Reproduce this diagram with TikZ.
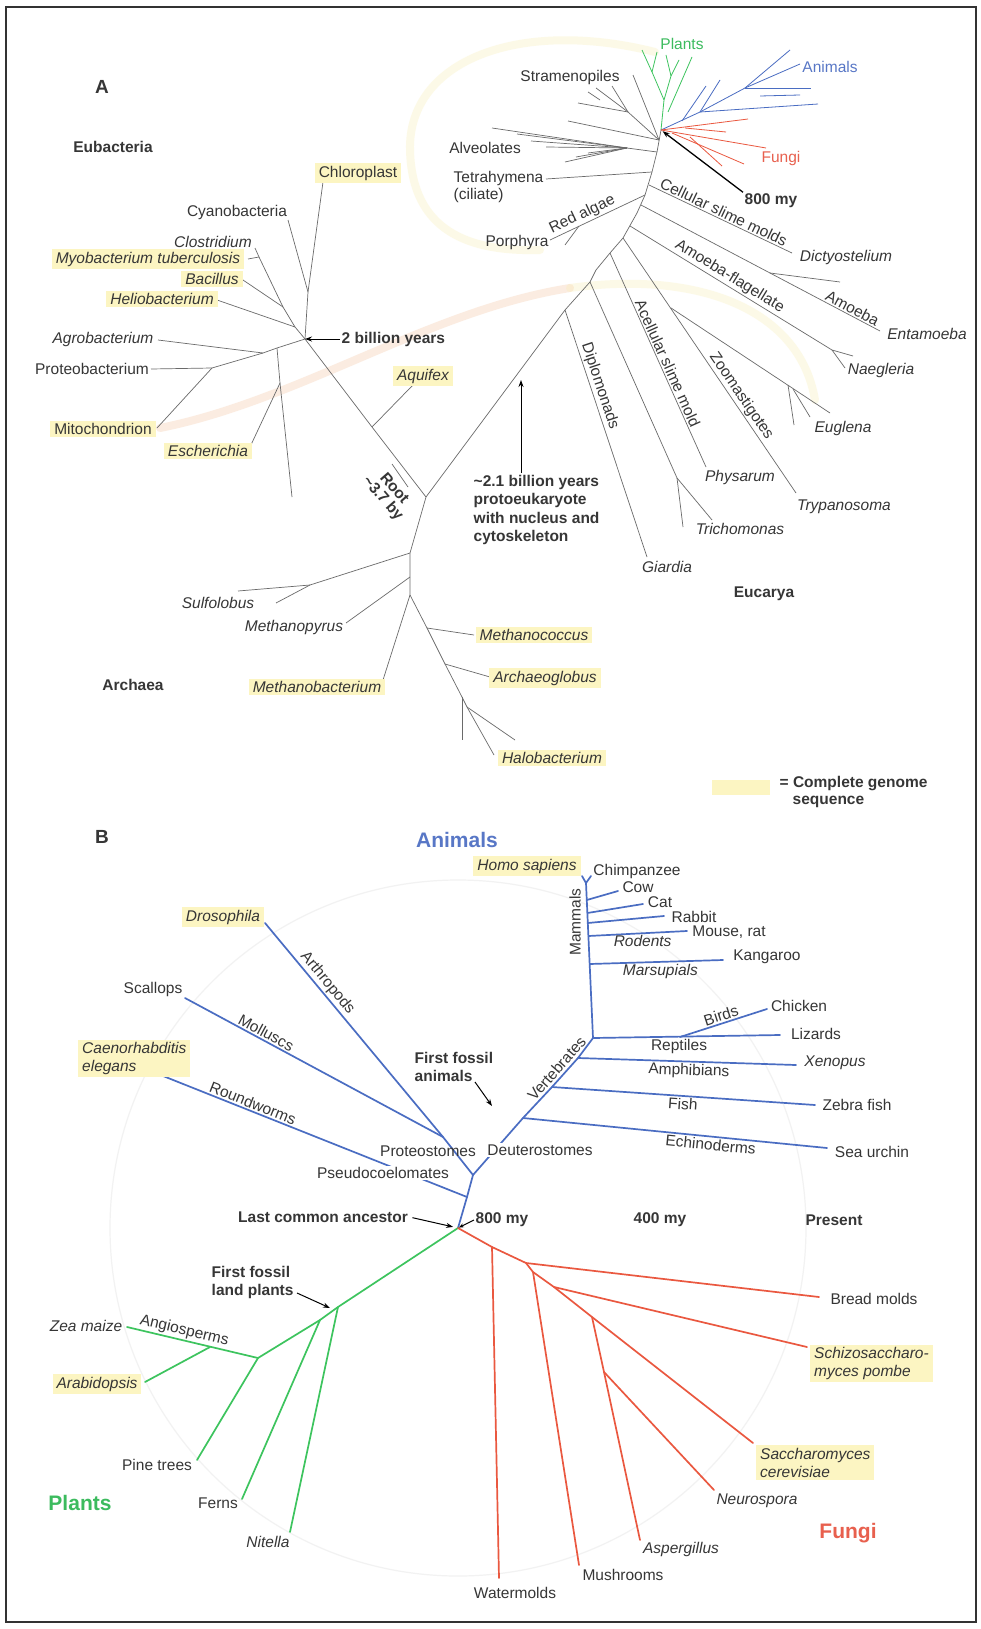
\documentclass[tikz,border=0pt]{standalone}
\usepackage{fontspec}
\setmainfont{Liberation Sans}
\usetikzlibrary{arrows.meta}
\definecolor{txt}{HTML}{363636}
\definecolor{lng}{HTML}{6A6A6A}
\definecolor{hly}{HTML}{FCF5C2}
\definecolor{blu}{HTML}{4A6DC2}
\definecolor{grn}{HTML}{3DC45E}
\definecolor{frd}{HTML}{EA5840}
\definecolor{anim}{HTML}{5877C6}
\definecolor{plnt}{HTML}{3CBB5E}
\definecolor{fng}{HTML}{E8604E}
\definecolor{bandY}{HTML}{F8EDB0}
\definecolor{bandO}{HTML}{F4C29C}
\begin{document}
\begin{tikzpicture}[x=1pt,y=-1pt,
  lab/.style={font=\fontsize{15.5}{17}\selectfont, text=txt, inner sep=1.5pt},
  itl/.style={font=\fontsize{15.5}{18}\selectfont\itshape, text=txt, inner sep=1.5pt},
  bld/.style={font=\fontsize{15.5}{18}\selectfont\bfseries, text=txt, inner sep=1.5pt},
  bigl/.style={font=\fontsize{21}{24}\selectfont\bfseries, inner sep=1pt},
  hlb/.style={fill=hly, inner xsep=4pt, inner ysep=2.5pt},
  tA/.style={draw=lng, line width=0.7pt, line join=round},
  tAb/.style={draw=blu, line width=0.8pt},
  tAg/.style={draw=grn, line width=0.8pt},
  tAr/.style={draw=frd, line width=0.8pt},
  tB/.style={draw=blu, line width=1.7pt, line join=round, line cap=round},
  tG/.style={draw=grn, line width=1.7pt, line join=round, line cap=round},
  tR/.style={draw=frd, line width=1.7pt, line join=round, line cap=round},
  arr/.style={-{Stealth[length=7pt,width=5pt]}, line width=1pt, draw=black},
]
\useasboundingbox (0,0) rectangle (980,1629);
\fill[white] (0,0) rectangle (980,1629);

% ---------- faint bands (part A) ----------
\draw[bandY, line width=8pt, opacity=0.3, line cap=round]
  (655,52) .. controls (520,18) and (408,60) .. (410,150)
  .. controls (412,232) and (470,252) .. (540,250);
\draw[bandO, line width=8pt, opacity=0.3, line cap=round]
  (160,428) .. controls (300,400) and (430,310) .. (570,288);
\draw[bandY, line width=8pt, opacity=0.3, line cap=round]
  (570,288) .. controls (700,270) and (800,310) .. (815,400);

% faint circle (part B)
\coordinate (LCA) at (458,1228);
\draw[black!5, line width=1.2pt] (LCA) circle [radius=348pt];

% frame
\draw[line width=1.6pt, black!80] (6,7) rectangle (976,1622);

% ================= PART A =================
\node[bld, font=\fontsize{19}{22}\selectfont\bfseries] (lA) at (102,87) {A};
\node[bld] (eub) at (113,147) {Eubacteria};
\node[bld] (arc) at (133,685) {Archaea};
\node[bld] (euc) at (764,594) {Eucarya};

% Eubacteria coordinates
\coordinate (R) at (305,339);
\coordinate (chlT) at (323,182);
\coordinate (chlJ) at (308,292);
\coordinate (cyaT) at (288,220);
\coordinate (cloT) at (255,248);
\coordinate (myoJ) at (259,257);
\coordinate (myoT) at (248,259);
\coordinate (bacJ) at (283,307);
\coordinate (bacT) at (243,280);
\coordinate (helJ) at (295,327);
\coordinate (helT) at (217,300);
\coordinate (p1) at (277,348);
\coordinate (agrJ) at (263,353);
\coordinate (agrT) at (158,340);
\coordinate (proJ) at (212,368);
\coordinate (proT) at (151,369);
\coordinate (mitT) at (157,428);
\coordinate (vT) at (292,497);
\coordinate (escJ) at (280,383);
\coordinate (escT) at (250,447);
\coordinate (J) at (426,497);
\coordinate (aqJ) at (372,427);
\coordinate (aqT) at (413,385);
\coordinate (rb1) at (392,464);
\coordinate (rb2) at (408,487);

\draw[tA] (chlT) -- (chlJ) -- (R);
\draw[tA] (cyaT) -- (chlJ);
\draw[tA] (cloT) -- (myoJ) -- (bacJ) -- (helJ) -- (R);
\draw[tA] (myoT) -- (myoJ);
\draw[tA] (bacT) -- (bacJ);
\draw[tA] (helT) -- (helJ);
\draw[tA] (R) -- (p1) -- (agrJ) -- (proJ) -- (mitT);
\draw[tA] (agrT) -- (agrJ);
\draw[tA] (proT) -- (proJ);
\draw[tA] (p1) -- (escJ) -- (vT);
\draw[tA] (escT) -- (escJ);
\draw[tA] (R) -- (aqJ) -- (J);
\draw[tA] (aqJ) -- (aqT);
\draw[tA] (rb1) -- (rb2);

\node[lab,hlb] (chl) at (358,173) {Chloroplast};
\node[lab] (cya) at (237,212) {Cyanobacteria};
\node[itl] (clo) at (213,242) {Clostridium};
\node[itl,hlb] (myo) at (148,259) {Myobacterium tuberculosis};
\node[itl,hlb] (bac) at (212,279) {Bacillus};
\node[itl,hlb] (hel) at (162,299) {Heliobacterium};
\node[itl] (agr) at (103,339) {Agrobacterium};
\node[lab] (prb) at (92,369) {Proteobacterium};
\node[lab,hlb] (mit) at (103,429) {Mitochondrion};
\node[itl,hlb] (esc) at (208,451) {Escherichia};
\node[itl,hlb] (aqu) at (423,376) {Aquifex};
\node[bld, anchor=west] (twob) at (340,339) {2 billion years};
\draw[arr] (twob.west) -- (R);
\node[bld, font=\fontsize{15.5}{15}\selectfont\bfseries, rotate=-49, align=center] (root) at (388,494) {Root\\\textasciitilde3.7 by};

% Archaea
\coordinate (a1) at (410,553);
\coordinate (a2) at (410,577);
\coordinate (a3) at (410,595);
\coordinate (mc) at (427,628);
\coordinate (ag) at (445,664);
\coordinate (a5) at (462,697);
\coordinate (a6) at (467,707);
\coordinate (halT) at (494,755);
\coordinate (a5b) at (462,740);
\coordinate (a6b) at (515,740);
\coordinate (su1) at (310,585);
\coordinate (suT) at (238,591);
\coordinate (suT2) at (276,603);
\coordinate (mpT) at (346,623);
\coordinate (mbT) at (383,680);
\coordinate (mcT) at (474,635);
\coordinate (agT) at (490,677);
\draw[tA] (J) -- (a1) -- (a2) -- (a3) -- (mc) -- (ag) -- (a5) -- (a6) -- (halT);
\draw[tA] (a1) -- (su1) -- (suT);
\draw[tA] (su1) -- (suT2);
\draw[tA] (a2) -- (mpT);
\draw[tA] (a3) -- (mbT);
\draw[tA] (mc) -- (mcT);
\draw[tA] (ag) -- (agT);
\draw[tA] (a5) -- (a5b);
\draw[tA] (a6) -- (a6b);
\node[itl] (sul) at (218,603) {Sulfolobus};
\node[itl] (mpy) at (294,627) {Methanopyrus};
\node[itl,hlb] (mba) at (317,687) {Methanobacterium};
\node[itl,hlb] (mco) at (534,635) {Methanococcus};
\node[itl,hlb] (arg) at (545,678) {Archaeoglobus};
\node[itl,hlb] (hal) at (552,758) {Halobacterium};

% Eucarya backbone
\coordinate (H) at (661,130);
\coordinate (B1) at (657,152);
\coordinate (B2) at (652,172);
\coordinate (B3) at (645,195);
\coordinate (B4) at (637,213);
\coordinate (B5) at (623,238);
\coordinate (B6) at (610,253);
\coordinate (B7) at (596,270);
\coordinate (B8) at (590,282);
\coordinate (D) at (565,310);
\draw[tA] (J) -- (D) -- (B8) -- (B7) -- (B6) -- (B5) -- (B4) -- (B3) -- (B2) -- (B1) -- (H);

% Stramenopiles
\coordinate (st0) at (659,140);
\coordinate (st1) at (628,112);
\coordinate (stA) at (633,75);
\coordinate (stB) at (578,103);
\coordinate (stC) at (596,88);
\coordinate (stD) at (612,86);
\coordinate (stE) at (568,121);
\coordinate (stF) at (600,100);
\coordinate (stG) at (588,92);
\draw[tA] (st0) -- (stA);
\draw[tA] (st0) -- (st1) -- (stB);
\draw[tA] (st1) -- (stC);
\draw[tA] (st1) -- (stD);
\draw[tA] (st0) -- (stE);
\draw[tA] (stF) -- (stG);

% Alveolates
\coordinate (AH) at (627,148);
\coordinate (al1) at (492,128);
\coordinate (al2) at (517,134);
\coordinate (al3) at (531,141);
\coordinate (al4) at (546,147);
\coordinate (al5) at (565,162);
\coordinate (al6) at (576,157);
\coordinate (al7) at (588,153);
\draw[tA] (B1) -- (AH);
\foreach \n in {1,...,7} \draw[tA] (AH) -- (al\n);

% Tetrahymena
\coordinate (tetT) at (546,179);
\draw[tA] (B2) -- (tetT);
\node[lab, anchor=west, align=left] (tet) at (452,187) {Tetrahymena\\(ciliate)};

% Red algae
\coordinate (raT) at (550,240);
\coordinate (rf) at (579,226);
\coordinate (rfT) at (565,245);
\draw[tA] (B3) -- node[lab, sloped, above, pos=0.62]{Red algae} (raT);
\draw[tA] (rf) -- (rfT);
\node[lab] (por) at (517,242) {Porphyra};

% Cellular slime molds
\coordinate (c1) at (649,185);
\coordinate (dicT) at (792,253);
\draw[tA] (c1) -- node[lab, sloped, above, pos=0.5]{Cellular slime molds} (dicT);
\node[itl] (dic) at (846,257) {Dictyostelium};

% Amoeba
\coordinate (c2) at (641,205);
\coordinate (entT) at (880,331);
\coordinate (c2s) at (770,273);
\coordinate (c2sT) at (840,282);
\draw[tA] (c2) -- node[lab, sloped, above, pos=0.87]{Amoeba} (entT);
\draw[tA] (c2s) -- (c2sT);
\node[itl] (ent) at (927,334) {Entamoeba};

% Amoeba-flagellate
\coordinate (c3) at (630,226);
\coordinate (c3f) at (832,350);
\coordinate (naeT) at (853,356);
\coordinate (naeT2) at (845,368);
\draw[tA] (c3) -- node[lab, sloped, above, pos=0.47]{Amoeba-flagellate} (c3f) -- (naeT);
\draw[tA] (c3f) -- (naeT2);
\node[itl] (nae) at (881,370) {Naegleria};

% Zoomastigotes
\coordinate (tryT) at (796,493);
\coordinate (eg0) at (671,308);
\coordinate (egT) at (830,413);
\coordinate (egf) at (788,385);
\coordinate (egf2) at (794,425);
\coordinate (egg) at (793,389);
\coordinate (egg2) at (810,417);
\draw[tA] (B5) -- node[lab, sloped, above, pos=0.64]{Zoomastigotes} (tryT);
\draw[tA] (eg0) -- (egT);
\draw[tA] (egf) -- (egf2);
\draw[tA] (egg) -- (egg2);
\node[itl] (eug) at (843,428) {Euglena};
\node[itl] (try) at (844,507) {Trypanosoma};

% Acellular slime mold
\coordinate (phyT) at (706,467);
\draw[tA] (B6) -- node[lab, sloped, above, pos=0.53]{Acellular slime mold} (phyT);
\node[itl] (phy) at (740,477) {Physarum};

% Trichomonas
\coordinate (F) at (677,478);
\coordinate (triT) at (712,520);
\coordinate (triT2) at (683,527);
\draw[tA] (B8) -- (F) -- (triT);
\draw[tA] (F) -- (triT2);
\node[itl] (tri) at (740,529) {Trichomonas};

% Diplomonads
\coordinate (giaT) at (647,557);
\draw[tA] (D) -- node[lab, sloped, above, pos=0.32]{Diplomonads} (giaT);
\node[itl] (gia) at (667,567) {Giardia};

% crown: plants
\coordinate (G1) at (664,100);
\coordinate (G2) at (652,72);
\coordinate (G3) at (671,76);
\coordinate (g1) at (642,50);
\coordinate (g2) at (657,52);
\coordinate (g3) at (666,55);
\coordinate (g4) at (679,60);
\coordinate (g5) at (668,112);
\coordinate (g6) at (692,57);
\draw[tAg] (H) -- (G1) -- (G2) -- (g1);
\draw[tAg] (G2) -- (g2);
\draw[tAg] (G1) -- (G3) -- (g3);
\draw[tAg] (G3) -- (g4);
\draw[tAg] (g5) -- (g6);
% crown: animals
\coordinate (A1) at (700,112);
\coordinate (A2) at (745,88);
\coordinate (b1) at (790,50);
\coordinate (b2) at (800,64);
\coordinate (b3) at (811,88);
\coordinate (b4) at (818,104);
\coordinate (b5) at (720,80);
\coordinate (b6) at (682,121);
\coordinate (b7) at (706,86);
\coordinate (b8) at (760,96);
\coordinate (b9) at (800,95);
\draw[tAb] (H) -- (A1) -- (A2) -- (b1);
\draw[tAb] (A2) -- (b2);
\draw[tAb] (A2) -- (b3);
\draw[tAb] (A1) -- (b4);
\draw[tAb] (A1) -- (b5);
\draw[tAb] (b6) -- (b7);
\draw[tAb] (b8) -- (b9);
% crown: fungi
\coordinate (r1) at (748,119);
\coordinate (r2) at (766,148);
\coordinate (r3) at (672,133);
\coordinate (r4) at (744,164);
\coordinate (r5) at (690,137);
\coordinate (r6) at (722,166);
\coordinate (r7) at (685,128);
\coordinate (r8) at (726,132);
\draw[tAr] (H) -- (r1);
\draw[tAr] (H) -- (r2);
\draw[tAr] (r3) -- (r4);
\draw[tAr] (r5) -- (r6);
\draw[tAr] (r7) -- (r8);

\node[lab] (str) at (570,77) {Stramenopiles};
\node[lab] (alv) at (485,148) {Alveolates};
\node[lab, text=plnt] (plA) at (682,44) {Plants};
\node[lab, text=anim] (anA) at (830,67) {Animals};
\node[lab, text=fng] (fuA) at (781,158) {Fungi};
\node[bld] (m800) at (771,201) {800 my};
\draw[arr, line width=1.3pt, shorten >=2pt] (m800.north west) -- (H);

% protoeukaryote
\node[bld, anchor=west, align=left, font=\fontsize{15.5}{18.3}\selectfont\bfseries] (pe) at (472,510) {\textasciitilde2.1 billion years\\protoeukaryote\\with nucleus and\\cytoskeleton};
\coordinate (pa1) at (521,473);
\coordinate (pa2) at (521,380);
\draw[arr] (pa1) -- (pa2);

% legend
\node[fill=hly, minimum width=58pt, minimum height=15pt, inner sep=0pt] (sw) at (741,787) {};
\node[bld, anchor=west] (leg1) at (778,784) {= Complete genome};
\node[bld, anchor=west] (leg2) at (791,802) {sequence};

% ================= PART B =================
\node[bld, font=\fontsize{19}{22}\selectfont\bfseries] (lB) at (102,837) {B};
\node[bigl, text=anim] (anB) at (457,840) {Animals};
\node[bigl, text=plnt] (plB) at (80,1503) {Plants};
\node[bigl, text=fng] (fuB) at (848,1533) {Fungi};

\coordinate (ps) at (467,1197);
\coordinate (fk) at (473,1175);
\coordinate (pr) at (443,1137);
\coordinate (ech) at (523,1118);
\coordinate (fish) at (552,1087);
\coordinate (amph) at (578,1058);
\coordinate (rep) at (593,1038);
\coordinate (mamT) at (586,883);
\coordinate (hsT) at (582,876);
\coordinate (chT) at (591,876);
\coordinate (mc1) at (586.8,900);
\coordinate (mc2) at (587.4,913);
\coordinate (mc3) at (587.8,923);
\coordinate (mc4) at (588.4,936);
\coordinate (mc5) at (589.7,964);
\coordinate (cowT) at (618,891);
\coordinate (catT) at (643,904);
\coordinate (rabT) at (664,916);
\coordinate (mouT) at (687,931);
\coordinate (kanT) at (723,960);
\coordinate (lizT) at (780,1035);
\coordinate (birdJ) at (680,1037);
\coordinate (chiT) at (767,1009);
\coordinate (xenT) at (796,1065);
\coordinate (zebT) at (815,1105);
\coordinate (seaT) at (827,1148);
\coordinate (droT) at (265,923);
\coordinate (scaT) at (185,998);
\coordinate (celT) at (143,1068);

\draw[tB] (LCA) -- (ps) -- (fk) -- (pr);
\draw[tB] (fk) -- (ech) -- (fish) -- (amph) -- (rep) -- (mamT);
\draw[tB] (mamT) -- (hsT);
\draw[tB] (mamT) -- (chT);
\path (ech) -- node[lab, sloped, above, pos=0.56]{Vertebrates} (rep);
\node[lab, rotate=90] (mam) at (575,922) {Mammals};
\draw[tB] (mc1) -- (cowT);
\draw[tB] (mc2) -- (catT);
\draw[tB] (mc3) -- (rabT);
\draw[tB] (mc4) -- node[itl, below, pos=0.55]{Rodents} (mouT);
\draw[tB] (mc5) -- node[itl, below, pos=0.53]{Marsupials} (kanT);
\draw[tB] (rep) -- node[lab, below, pos=0.46]{Reptiles} (lizT);
\draw[tB] (birdJ) -- node[lab, sloped, above, pos=0.5]{Birds} (chiT);
\draw[tB] (amph) -- node[lab, sloped, below, pos=0.51]{Amphibians} (xenT);
\draw[tB] (fish) -- node[lab, sloped, below, pos=0.5]{Fish} (zebT);
\draw[tB] (ech) -- node[lab, sloped, below, pos=0.62]{Echinoderms} (seaT);
\draw[tB] (droT) -- node[lab, sloped, above, pos=0.31]{Arthropods} (pr);
\draw[tB] (scaT) -- node[lab, sloped, above, pos=0.3]{Molluscs} (pr);
\draw[tB] (celT) -- node[lab, sloped, above, pos=0.33]{Roundworms} (ps);

\node[itl,hlb] (hs) at (527,866) {Homo sapiens};
\node[lab] (chi) at (637,871) {Chimpanzee};
\node[lab] (cow) at (638,887) {Cow};
\node[lab] (cat) at (660,902) {Cat};
\node[lab] (rab) at (694,917) {Rabbit};
\node[lab] (mou) at (729,932) {Mouse, rat};
\node[lab] (kan) at (767,957) {Kangaroo};
\node[lab] (chk) at (799,1006) {Chicken};
\node[lab] (liz) at (816,1034) {Lizards};
\node[itl] (xen) at (835,1063) {Xenopus};
\node[lab] (zeb) at (857,1105) {Zebra fish};
\node[lab] (sea) at (872,1152) {Sea urchin};
\node[itl,hlb] (dro) at (223,917) {Drosophila};
\node[lab] (sca) at (153,989) {Scallops};
\node[itl,hlb,anchor=west,align=left] (cel) at (78,1058.5) {Caenorhabditis\\elegans};
\node[lab] (pro) at (428,1151) {Proteostomes};
\node[lab, fill=white] (pse) at (383,1173) {Pseudocoelomates};
\node[lab, fill=white] (deu) at (540,1150) {Deuterostomes};

\node[bld, anchor=west, align=left] (ffa) at (413,1067) {First fossil\\animals};
\coordinate (fa1) at (475,1082);
\coordinate (fa2) at (492,1106);
\draw[arr] (fa1) -- (fa2);

\node[bld] (lca) at (323,1217) {Last common ancestor};
\draw[arr, shorten <=3pt, shorten >=5pt] (lca.east) -- (LCA);
\node[bld, anchor=west] (b800) at (474,1220) {800 my};
\draw[arr, -{Stealth[length=5pt,width=4pt]}, shorten >=1pt] (b800.west) -- (LCA);
\node[bld] (b400) at (660,1220) {400 my};
\node[bld] (bpr) at (834,1220) {Present};

% plants
\coordinate (pl1) at (338,1307);
\coordinate (pl2) at (320,1320);
\coordinate (pl3) at (258,1358);
\coordinate (nitT) at (290,1532);
\coordinate (ferT) at (242,1499);
\coordinate (pinT) at (197,1460);
\coordinate (zeaT) at (127,1327);
\coordinate (araJ) at (210,1347);
\coordinate (araT) at (145,1382);
\draw[tG] (LCA) -- (pl1) -- (pl2) -- (pl3);
\draw[tG] (zeaT) -- node[lab, sloped, above, pos=0.42]{Angiosperms} (pl3);
\draw[tG] (pl1) -- (nitT);
\draw[tG] (pl2) -- (ferT);
\draw[tG] (pl3) -- (pinT);
\draw[tG] (araJ) -- (araT);
\node[bld, anchor=west, align=left] (ffl) at (210,1282.5) {First fossil\\land plants};
\coordinate (fl1) at (297,1293);
\coordinate (fl2) at (330,1308);
\draw[arr] (fl1) -- (fl2);
\node[itl] (zea) at (86,1326) {Zea maize};
\node[itl,hlb] (ara) at (97,1384) {Arabidopsis};
\node[lab] (pin) at (157,1465) {Pine trees};
\node[lab] (fer) at (218,1503) {Ferns};
\node[itl] (nit) at (268,1542) {Nitella};

% fungi
\coordinate (f1) at (492,1247);
\coordinate (f2) at (526,1263);
\coordinate (f3) at (533,1272);
\coordinate (f4) at (554,1287);
\coordinate (f5) at (592,1317);
\coordinate (f6) at (604,1372);
\coordinate (watT) at (499,1578);
\coordinate (bredT) at (819,1297);
\coordinate (musT) at (579,1565);
\coordinate (schT) at (807,1347);
\coordinate (sacT) at (753,1443);
\coordinate (neuT) at (714,1490);
\coordinate (aspT) at (640,1540);
\draw[tR] (LCA) -- (f1) -- (f2) -- (f3) -- (f4) -- (f5) -- (sacT);
\draw[tR] (f1) -- (watT);
\draw[tR] (f2) -- (bredT);
\draw[tR] (f3) -- (musT);
\draw[tR] (f4) -- (schT);
\draw[tR] (f5) -- (f6) -- (aspT);
\draw[tR] (f6) -- (neuT);
\node[lab] (bre) at (874,1299) {Bread molds};
\node[itl,hlb,anchor=west,align=left] (sch) at (810,1363.5) {Schizosaccharo-\\myces pombe};
\node[itl,hlb,anchor=west,align=left] (sac) at (756,1462.5) {Saccharomyces\\cerevisiae};
\node[itl] (neu) at (757,1501) {Neurospora};
\node[itl] (asp) at (681,1549) {Aspergillus};
\node[lab] (mus) at (623,1575) {Mushrooms};
\node[lab] (wat) at (515,1593) {Watermolds};
\end{tikzpicture}
\end{document}
